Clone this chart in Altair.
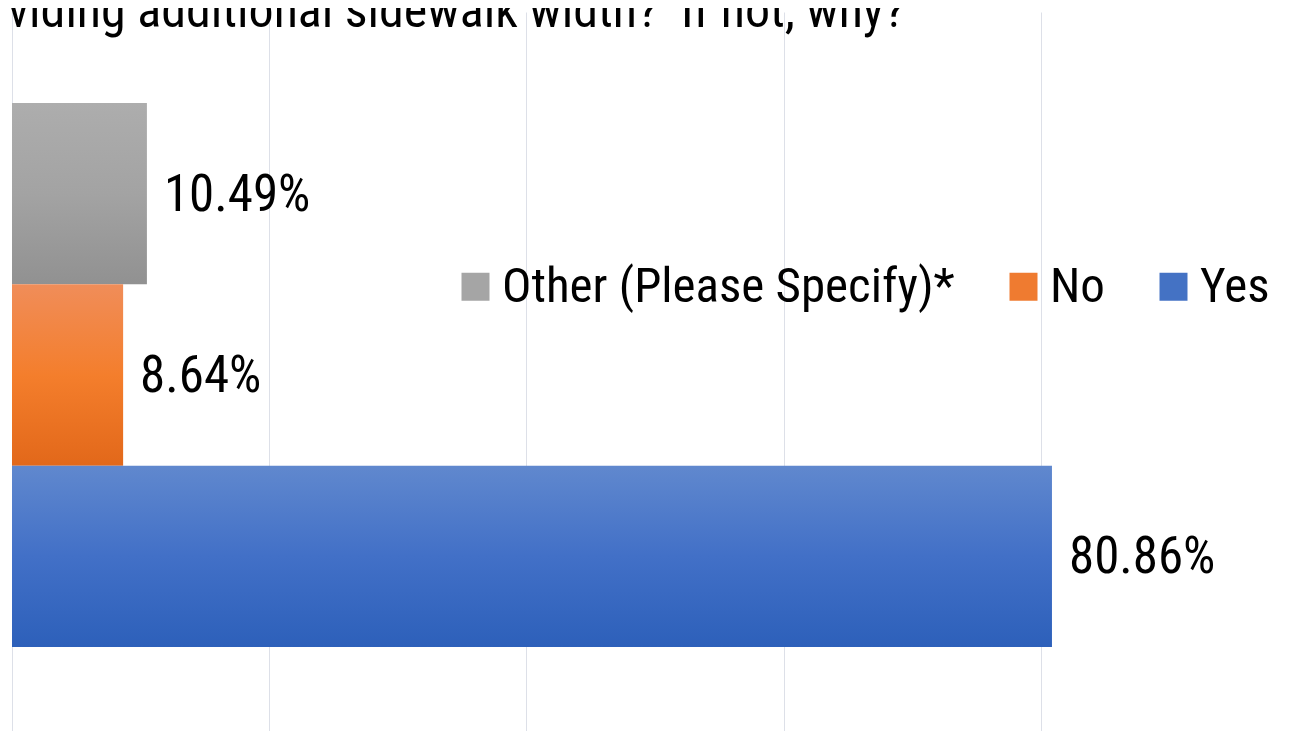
import altair as alt
import pandas as pd

series = ["Other (Please Specify)*", "No", "Yes"]
values = [10.49, 8.64, 80.86]
labels = ["10.49%", "8.64%", "80.86%"]
title_text = "oviding additional sidewalk width?\u00a0 If not, why?"

df = pd.DataFrame({"series": series, "value": values, "label": labels})

FONT = "Roboto Condensed, Liberation Sans Narrow, Arial Narrow, sans-serif"

gradients = {
    "Other (Please Specify)*": ["#adadad", "#a3a3a3", "#919191"],
    "No": ["#f08d59", "#f47e2c", "#e2681a"],
    "Yes": ["#6088ce", "#4270c7", "#2d60ba"],
}
legend_colors = ["#a5a5a5", "#ef7b30", "#4472c4"]

W, H = 1277, 719

x = alt.X("value:Q", scale=alt.Scale(domain=[0, 99.29], nice=False, zero=True),
          axis=alt.Axis(values=[0, 20, 40, 60, 80], labels=False, ticks=False, domain=False,
                        grid=True, gridColor="#dde0e8", gridWidth=1, title=None))
y = alt.Y("series:N", sort=series,
          scale=alt.Scale(domain=series, paddingInner=0, paddingOuter=0.4826, align=0.52),
          axis=None)

base = alt.Chart(df)

layers = []
# invisible layer to create legend and grid
layers.append(
    base.mark_bar(opacity=0).encode(
        x=x, y=y,
        color=alt.Color("series:N", sort=series,
                        scale=alt.Scale(domain=series, range=legend_colors),
                        legend=alt.Legend(
                            orient="none", legendX=439, legendY=250, direction="horizontal",
                            title=None, symbolType="square", symbolSize=784,
                            symbolOpacity=1, symbolStrokeWidth=0,
                            labelFont=FONT, labelFontSize=49, labelColor="#000000",
                            labelLimit=0, labelOffset=2, columnPadding=44,
                        ))
    )
)
for s in series:
    c = gradients[s]
    layers.append(
        base.transform_filter(alt.datum.series == s).mark_bar(
            color=alt.Gradient(gradient="linear", x1=0, x2=0, y1=0, y2=1,
                               stops=[alt.GradientStop(color=c[0], offset=0),
                                      alt.GradientStop(color=c[1], offset=0.5),
                                      alt.GradientStop(color=c[2], offset=1)])
        ).encode(x=x, y=y)
    )

layers.append(
    base.mark_text(align="left", baseline="middle", dx=17, dy=2, font=FONT, fontSize=51,
                   color="#000000").encode(x=x, y=y, text="label:N")
)

layers.append(
    alt.Chart(pd.DataFrame({"t": [title_text]})).mark_text(
        align="left", baseline="alphabetic", font=FONT, fontSize=50, color="#000000"
    ).encode(x=alt.value(-29), y=alt.value(15), text="t:N")
)

chart = alt.layer(*layers).properties(
    width=W, height=H,
    background="white",
    autosize=alt.AutoSizeParams(type="none"),
    padding={"left": 4, "top": 4, "right": 0, "bottom": 0},
).configure_view(stroke=None)

chart.save("out.html", embed_options={"renderer": "svg", "actions": False})
